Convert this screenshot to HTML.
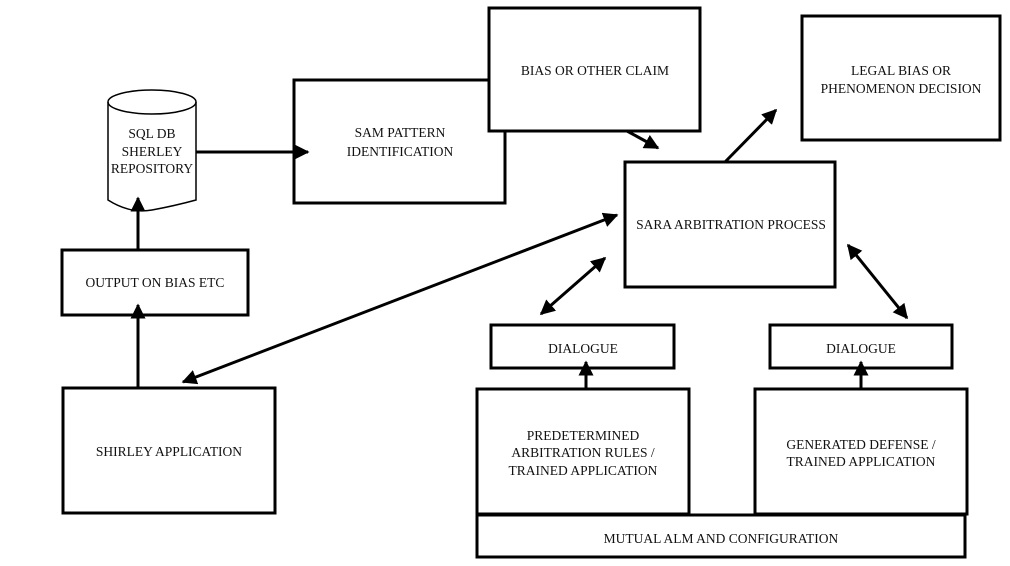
<!DOCTYPE html>
<html><head><style>body{margin:0;background:#fff}svg{display:block}text{font-family:"Liberation Serif",serif;font-size:13.5px;fill:#111;text-anchor:middle}</style></head>
<body>
<svg width="1010" height="566" viewBox="0 0 1010 566">
<defs><marker id="a" viewBox="0 0 10 10" refX="9" refY="5" markerWidth="5" markerHeight="5" orient="auto-start-reverse"><path d="M0,0L10,5L0,10z" fill="#000"/></marker></defs>
<g fill="none" stroke="#000" stroke-width="3">
<rect x="294" y="80" width="211" height="123"/>
<rect x="489" y="8" width="211" height="123" fill="#fff"/>
<rect x="802" y="16" width="198" height="124"/>
<rect x="625" y="162" width="210" height="125"/>
<rect x="62" y="250" width="186" height="65"/>
<rect x="63" y="388" width="212" height="125"/>
<rect x="491" y="325" width="183" height="43"/>
<rect x="770" y="325" width="182" height="43"/>
<rect x="477" y="389" width="212" height="125"/>
<rect x="755" y="389" width="212" height="125"/>
<rect x="477" y="515" width="488" height="42"/>
</g>
<g fill="none" stroke="#000" stroke-width="1.5">
<ellipse cx="152" cy="102" rx="44" ry="12"/>
<path d="M108,102V200Q130,214 152,210T196,200V102"/>
</g>
<g stroke="#000" stroke-width="3" fill="none" marker-end="url(#a)">
<line x1="196" y1="152" x2="308" y2="152"/>
<line x1="138" y1="250" x2="138" y2="198"/>
<line x1="138" y1="388" x2="138" y2="305"/>
<line x1="627" y1="131" x2="658" y2="148"/>
<line x1="725" y1="162" x2="776" y2="110"/>
<line x1="617" y1="215" x2="183" y2="382" marker-start="url(#a)"/>
<line x1="605" y1="258" x2="541" y2="314" marker-start="url(#a)"/>
<line x1="848" y1="245" x2="907" y2="318" marker-start="url(#a)"/>
<line x1="586" y1="389" x2="586" y2="362"/>
<line x1="861" y1="389" x2="861" y2="362"/>
</g>
<text x="152" y="138">SQL DB</text><text x="152" y="156">SHERLEY</text><text x="152" y="173">REPOSITORY</text>
<text x="400" y="137">SAM PATTERN</text><text x="400" y="156">IDENTIFICATION</text>
<text x="595" y="75">BIAS OR OTHER CLAIM</text>
<text x="901" y="75">LEGAL BIAS OR</text><text x="901" y="93">PHENOMENON DECISION</text>
<text x="731" y="229">SARA ARBITRATION PROCESS</text>
<text x="155" y="287">OUTPUT ON BIAS ETC</text>
<text x="169" y="456">SHIRLEY APPLICATION</text>
<text x="583" y="353">DIALOGUE</text>
<text x="861" y="353">DIALOGUE</text>
<text x="583" y="440">PREDETERMINED</text><text x="583" y="457">ARBITRATION RULES /</text><text x="583" y="475">TRAINED APPLICATION</text>
<text x="861" y="449">GENERATED DEFENSE /</text><text x="861" y="466">TRAINED APPLICATION</text>
<text x="721" y="543">MUTUAL ALM AND CONFIGURATION</text>
</svg>
</body></html>
